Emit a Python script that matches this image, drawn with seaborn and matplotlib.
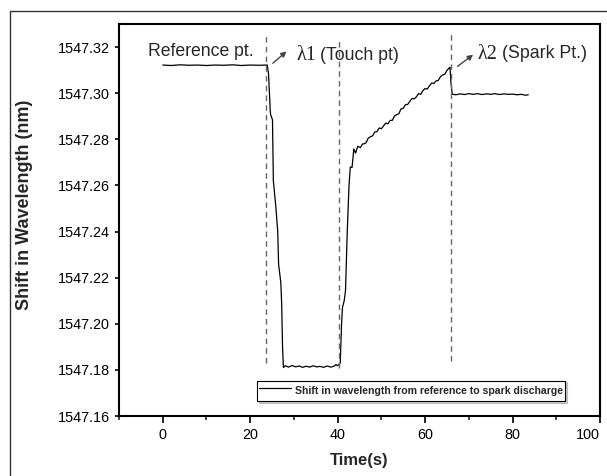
import matplotlib
matplotlib.use("Agg")
import matplotlib.pyplot as plt
import seaborn as sns
import pandas as pd
from matplotlib.patches import Rectangle
from matplotlib.ticker import MultipleLocator, FormatStrFormatter

# ---- data ----
ref_t = [0, 2, 4, 6, 8, 10, 12, 14, 16, 18, 20, 22, 23.9]
ref_w = [1547.3122, 1547.3120, 1547.3123, 1547.3121, 1547.3122, 1547.3120, 1547.3122,
         1547.3121, 1547.3123, 1547.3120, 1547.3122, 1547.3121, 1547.3122]

drop_t = [24.2, 24.6, 24.7, 25.1, 25.3, 25.9, 26.3, 26.5, 27.0, 27.2, 27.4, 27.6]
drop_w = [1547.3083, 1547.2920, 1547.2905, 1547.2885, 1547.2620, 1547.2500, 1547.2400,
          1547.2257, 1547.2180, 1547.2087, 1547.1900, 1547.1810]

floor_t = [28.0, 28.8, 29.6, 30.4, 31.2, 32.0, 32.8, 33.6, 34.4, 35.2, 36.0, 36.8, 37.6,
           38.4, 39.2, 39.6, 40.0, 40.4]
floor_w = [1547.1818, 1547.1812, 1547.1819, 1547.1813, 1547.1817, 1547.1811, 1547.1816,
           1547.1812, 1547.1818, 1547.1813, 1547.1815, 1547.1811, 1547.1817, 1547.1812,
           1547.1816, 1547.1823, 1547.1818, 1547.1826]

rise_t = [40.6, 40.9, 41.1, 41.5, 41.8, 42.2, 42.6, 42.9, 43.3, 43.7, 44.1, 44.6, 45.2, 45.7]
rise_w = [1547.1830, 1547.2000, 1547.2070, 1547.2100, 1547.2144, 1547.2400, 1547.2600,
          1547.2680, 1547.2678, 1547.2758, 1547.2740, 1547.2770, 1547.2764, 1547.2780]

slope_t = [46.0, 46.5, 47.0, 47.5, 48.0, 48.5, 49.0, 49.5, 50.0, 50.5, 51.0, 51.5, 52.0,
           52.5, 53.0, 53.5, 54.0, 54.5, 55.0, 55.5, 56.0, 56.5, 57.0, 57.5, 58.0, 58.5,
           59.0, 59.5, 60.0, 60.5, 61.0, 61.5, 62.0, 62.5, 63.0, 63.5, 64.0, 64.5, 65.0, 65.5]
slope_w = [1547.2780, 1547.2785, 1547.2805, 1547.2811, 1547.2815, 1547.2832, 1547.2833,
           1547.2849, 1547.2846, 1547.2858, 1547.2870, 1547.2867, 1547.2882, 1547.2882,
           1547.2901, 1547.2907, 1547.2911, 1547.2932, 1547.2934, 1547.2950, 1547.2951,
           1547.2964, 1547.2977, 1547.2975, 1547.2984, 1547.2998, 1547.2995, 1547.3011,
           1547.3020, 1547.3018, 1547.3032, 1547.3044, 1547.3042, 1547.3053, 1547.3055,
           1547.3071, 1547.3079, 1547.3082, 1547.3099, 1547.3109]

spark_t = [65.7, 65.9, 66.2, 67.0, 68.0, 69.0, 70.0, 71.0, 72.0, 73.0, 74.0, 75.0, 76.0,
           77.0, 78.0, 79.0, 80.0, 81.0, 82.0, 83.0, 83.6]
spark_w = [1547.3112, 1547.3050, 1547.2996, 1547.2993, 1547.2997, 1547.2994, 1547.2998,
           1547.2995, 1547.2998, 1547.2994, 1547.2997, 1547.2995, 1547.2998, 1547.2994,
           1547.2997, 1547.2995, 1547.2996, 1547.2993, 1547.2995, 1547.2991, 1547.2993]

event_t = [23.6, 40.4, 66.0]
event_top = [1547.3248, 1547.3226, 1547.3260]
event_bottom = [1547.1828, 1547.1810, 1547.1840]

x_ticks = [0, 20, 40, 60, 80, 100]

series_name = "Shift in wavelength from reference to spark discharge"

df = pd.DataFrame({
    "t": ref_t + drop_t + floor_t + rise_t + slope_t + spark_t,
    "w": ref_w + drop_w + floor_w + rise_w + slope_w + spark_w,
})
df["series"] = series_name

# ---- plot ----
sns.set_style("ticks")
plt.rcParams["font.family"] = ["Liberation Sans", "DejaVu Sans"]

fig = plt.figure(figsize=(6.07, 4.76), dpi=100)
ax = fig.add_axes([119 / 607, 1 - 416 / 476, 481 / 607, 392 / 476])

sns.lineplot(data=df, x="t", y="w", hue="series", palette=["black"], linewidth=0.9,
             sort=False, estimator=None, ax=ax)

ax.vlines(event_t, event_bottom, event_top, colors="#666666", linestyles=(0, (4, 3)),
          linewidth=1.0)

ax.set_xlim(-10, 100)
ax.set_ylim(1547.16, 1547.33)
ax.set_xticks(x_ticks)
ax.set_xticklabels([str(v) for v in x_ticks])
ax.xaxis.set_minor_locator(MultipleLocator(10))
ax.yaxis.set_major_locator(MultipleLocator(0.02))
ax.yaxis.set_major_formatter(FormatStrFormatter("%.2f"))
ax.tick_params(axis="both", which="major", direction="out", length=5, width=1.2,
               labelsize=10.4, colors="black")
ax.tick_params(axis="x", which="minor", direction="out", length=3, width=1.2)
ax.tick_params(axis="y", which="major", length=3)
for s in ax.spines.values():
    s.set_linewidth(1.5)
    s.set_color("black")

# last x label sits flush with the right spine, as in the original
ax.get_xticklabels()[-1].set_horizontalalignment("right")

ax.set_xlabel("Time(s)", fontsize=12, fontweight="bold", labelpad=8)
ax.set_ylabel("Shift in Wavelength (nm)", fontsize=13, fontweight="bold")
ax.yaxis.set_label_coords(-0.179, 0.538)

# annotations
ax.text(-3.4, 1547.318, "Reference pt.", fontsize=12.7, va="center", ha="left")
arrow = dict(arrowstyle="-|>", color="#444444", lw=1.0, mutation_scale=8)
ax.annotate("", xy=(28.8, 1547.3189), xytext=(24.7, 1547.3122), arrowprops=arrow)
ax.annotate("", xy=(71.5, 1547.3174), xytext=(66.9, 1547.3109), arrowprops=arrow)
ax.text(30.6, 1547.3162, "λ1", fontsize=14.5, va="center", ha="left",
        family=["Liberation Serif", "DejaVu Serif"])
ax.text(36.0, 1547.3163, "(Touch pt)", fontsize=12.8, va="center", ha="left")
ax.text(71.9, 1547.3166, "λ2", fontsize=14.5, va="center", ha="left",
        family=["Liberation Serif", "DejaVu Serif"])
ax.text(77.6, 1547.3170, "(Spark Pt.)", fontsize=12.8, va="center", ha="left")

leg = ax.legend(loc="lower left", bbox_to_anchor=(0.287, 0.038), borderaxespad=0,
                fancybox=False, shadow={"ox": 1.2, "oy": -1.2, "color": "0.6"},
                framealpha=1, edgecolor="black",
                prop={"weight": "bold", "size": 7.6}, handlelength=3.0,
                handleheight=2.0, handletextpad=0.4, borderpad=0.2)
leg.get_frame().set_linewidth(0.8)
leg.set_title(None)

# outer frame of the figure
fig.patches.append(Rectangle((10 / 607, -0.2), 1.2, 0.2 + (1 - 11 / 476),
                             transform=fig.transFigure, fill=False,
                             edgecolor="#333333", linewidth=1.0, figure=fig))

fig.savefig("out.png", dpi=100)
